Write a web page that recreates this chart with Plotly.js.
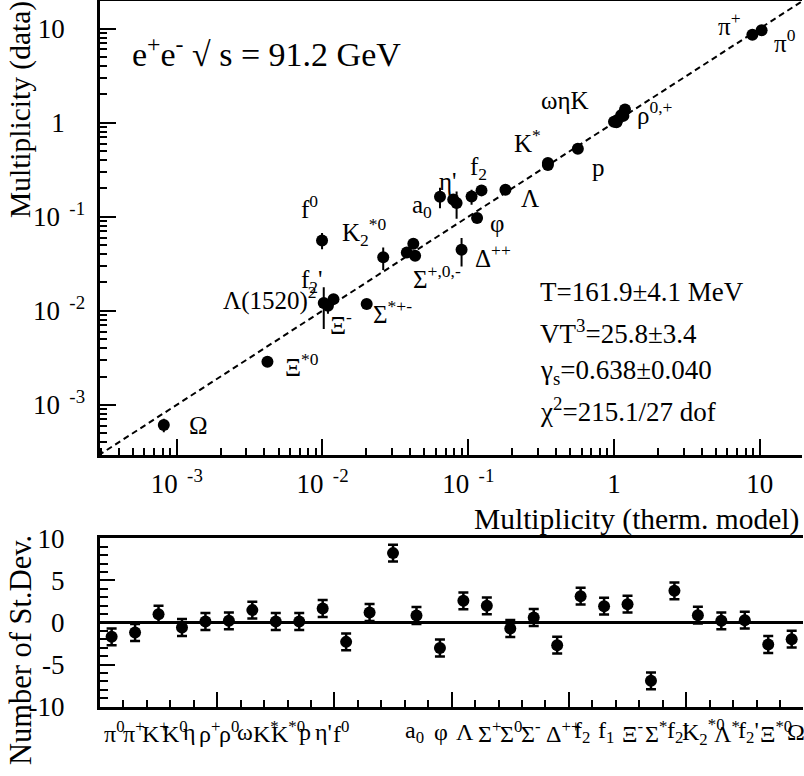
<!DOCTYPE html>
<html><head><meta charset="utf-8">
<script src="https://cdn.plot.ly/plotly-3.0.1.min.js"></script>
<style>html,body{margin:0;padding:0;background:#fff;} #chart{width:804px;height:776px;}</style>
</head><body><div id="chart"></div>
<script>
// ---------- data ----------
const species = ['π0','π+','K+','K0','η','ρ+','ρ0','ω','K*','K*0','p',"η'",'f0','a0','φ','Λ','Σ+','Σ0','Σ-','Δ++','f2','f1','Ξ-','Σ*',"f2'",'K2*0','Λ*',"f2'",'Ξ*0','Ω'];
const modelMult = [10.3, 8.9, 1.12, 1.04, 1.00, 1.16, 1.19, 1.05, 0.352, 0.352, 0.565, 0.0832, 0.00993, 0.064, 0.115, 0.180, 0.0420, 0.0432, 0.0379, 0.090, 0.1233, 0.1054, 0.0119, 0.0201, 0.0102, 0.0261, 0.0109, 0.0789, 0.00419, 0.000815];
const dataMult  = [9.6, 8.6, 1.20, 1.01, 1.02, 1.18, 1.38, 1.06, 0.355, 0.372, 0.529, 0.140, 0.056, 0.163, 0.0968, 0.1936, 0.0516, 0.0385, 0.0417, 0.0445, 0.1905, 0.164, 0.0133, 0.0118, 0.0121, 0.0371, 0.0113, 0.152, 0.00287, 0.000612];
const dataErr   = [0.4, 0.2, 0.04, 0.03, 0.05, 0.1, 0.1, 0.05, 0.02, 0.02, 0.02, 0.045, 0.011, 0.04, 0.005, 0.005, 0.004, 0.003, 0.003, 0.015, 0.02, 0.03, 0.0005, 0.0012, 0.0057, 0.01, 0.002, 0.01, 0.0003, 0.0001];
const nSigma    = [-1.70, -1.19, 0.99, -0.59, 0.12, 0.20, 1.47, 0.12, 0.12, 1.66, -2.30, 1.19, 8.24, 0.83, -3.03, 2.57, 1.98, -0.71, 0.59, -2.69, 3.13, 1.94, 2.18, -6.93, 3.76, 0.87, 0.20, 0.28, -2.61, -1.98];
const nSigmaErr = [1,1,1,1,1,1,1,1,1,1,1,1,1,1,1,1,1,1,1,1,1,1,1,1,1,1,1,1,1,1];
const diagonal  = [2.9e-4, 20];
const logTickVals = [0.001, 0.01, 0.1, 1, 10];
const xLogTickText = ['10<sup>\u00a0\u00a0-3</sup>','10<sup>\u00a0\u00a0-2</sup>','10<sup>\u00a0\u00a0-1</sup>','1','10'];
const yLogTickText = ['10<sup>\u00a0\u00a0-3</sup>','10<sup>\u00a0\u00a0-2</sup>','10<sup>\u00a0\u00a0-1</sup>','1\u00a0\u00a0\u00a0','10\u00a0\u00a0\u00a0'];
const devTickVals = [-10,-5,0,5,10];
const devTickText = ['-10','-5','0','5','10'];
const fitLines = ['T=161.9±4.1 MeV','VT<sup>3</sup>=25.8±3.4','γ<sub>s</sub>=0.638±0.040','χ<sup>2</sup>=215.1/27 dof'];
const topLabels = ['π<sup>+</sup>','π<sup>0</sup>','ωηK','ρ<sup>0,+</sup>','K<sup>*</sup>','p','Λ','φ','Δ<sup>++</sup>','f<sub>2</sub>',"η'",'a<sub>0</sub>','Σ<sup>+,0,-</sup>','K<sub>2</sub><sup>*0</sup>','f<sup>0</sup>',"f<sub>2</sub>'",'Λ(1520)<sup>2</sup>','Ξ<sup>-</sup>','Σ<sup>*+-</sup>','Ξ<sup>*0</sup>','Ω'];
const catLabels = ['π<sup>0</sup>','π<sup>+</sup>','K<sup>+</sup>','K<sup>0</sup>','η','ρ<sup>+</sup>','ρ<sup>0</sup>','ω','K<sup>*</sup>','K<sup>*0</sup>','p',"η'",'f<sup>0</sup>','a<sub>0</sub>','φ','Λ','Σ<sup>+</sup>','Σ<sup>0</sup>','Σ<sup>-</sup>','Δ<sup>++</sup>','f<sub>2</sub>','f<sub>1</sub>','Ξ<sup>-</sup>','Σ<sup>*</sup>',"f<sub>2</sub>'",'K<sub>2</sub><sup>*0</sup>','Λ<sup>*</sup>',"f<sub>2</sub>'",'Ξ<sup>*0</sup>','Ω'];

// ---------- layout helpers ----------
const W = 804, H = 776;
const FONT = '"Liberation Serif", "Times New Roman", Times, serif';
const px = x => x / W, py = y => 1 - y / H;
function ann(text, x, y, size, xa, ya, extra) {
  return Object.assign({text: text, x: px(x), y: py(y), xref: 'paper', yref: 'paper', showarrow: false,
    xanchor: xa || 'center', yanchor: ya || 'middle', font: {family: FONT, size: size, color: '#000'}}, extra || {});
}
const minorLog = [];
for (let e = -4; e <= 1; e++) for (let k = 2; k <= 9; k++) minorLog.push(k * Math.pow(10, e));
const catX = species.map((_, i) => i + 0.5);

const topLabelPos = [[729,24],[785,41],[565,101],[655,113],[527,141],[598,167],[530,198],[497,224],[493,256],[478,168],[448,181],[422,207],[437,277],[364,232],[309,207],[312,281],[270,298],[341,323],[392,312],[302,365],[198,425]];
const catLabelPx = [115,134,155,174.5,189,210,229,245,266,288,305,323,341,414,441,465,490,511,531,563,582,606,632,656,677,703,727,748,776,796];

const annotations = [];
topLabels.forEach((t, i) => annotations.push(ann(t, topLabelPos[i][0], topLabelPos[i][1], 25)));
annotations.push(ann('e<sup>+</sup>e<sup>-</sup> √ s = 91.2 GeV', 130, 52, 34, 'left'));
fitLines.forEach((t, i) => annotations.push(ann(t, 538, [292, 332, 372, 410][i], 27, 'left')));
annotations.push(ann('Multiplicity (data)', 21, 110, 29.5, 'center', 'middle', {textangle: -90}));
annotations.push(ann('Multiplicity (therm. model)', 801, 519, 29.5, 'right'));
annotations.push(ann('Number of St.Dev.', 21, 650, 30.5, 'center', 'middle', {textangle: -90}));
catLabels.forEach((t, i) => annotations.push(ann(t, catLabelPx[i], 732, 24)));

const traces = [
  {x: diagonal, y: diagonal, xaxis: 'x', yaxis: 'y', mode: 'lines', line: {color: '#000', width: 2, dash: '6px,4px'}, hoverinfo: 'skip'},
  {x: modelMult, y: dataMult, xaxis: 'x', yaxis: 'y', mode: 'markers', text: species,
   marker: {color: '#000', size: 12},
   error_y: {type: 'data', array: dataErr, visible: true, color: '#000', thickness: 2, width: 0}},
  {x: catX, y: nSigma, xaxis: 'x2', yaxis: 'y2', mode: 'markers', text: species,
   marker: {color: '#000', size: 12},
   error_y: {type: 'data', array: nSigmaErr, visible: true, color: '#000', thickness: 2.5, width: 5}}
];

const axBase = {showline: true, linecolor: '#000', linewidth: 3, showgrid: false, zeroline: false,
  ticks: 'inside', tickcolor: '#000', tickwidth: 2, tickfont: {family: FONT, size: 27, color: '#000'}};

const layout = {
  width: W, height: H, margin: {l: 0, r: 0, t: 0, b: 0}, paper_bgcolor: '#fff', plot_bgcolor: '#fff',
  showlegend: false, font: {family: FONT, color: '#000'},
  xaxis: Object.assign({}, axBase, {type: 'log', domain: [99.5 / W, 802 / W], range: [-3.53, 1.29], anchor: 'y',
    mirror: true, tickmode: 'array', tickvals: logTickVals, ticktext: xLogTickText, ticklen: 16, ticklabelstandoff: 3,
    minor: {tickmode: 'array', tickvals: minorLog, ticks: 'inside', ticklen: 7, tickcolor: '#000', tickwidth: 2}}),
  yaxis: Object.assign({}, axBase, {type: 'log', domain: [1 - 454.7 / H, 1 - 1.3 / H], range: [-3.53, 1.29], anchor: 'x',
    tickmode: 'array', tickvals: logTickVals, ticktext: yLogTickText, ticklen: 16, ticklabelstandoff: 6,
    minor: {tickmode: 'array', tickvals: minorLog, ticks: 'inside', ticklen: 7, tickcolor: '#000', tickwidth: 2}}),
  xaxis2: Object.assign({}, axBase, {domain: [99.9 / W, 803.4 / W], range: [0, 30], anchor: 'y2', mirror: true,
    dtick: 5, tick0: 0, ticklen: 15, showticklabels: false,
    minor: {dtick: 1, tick0: 0, ticks: 'inside', ticklen: 7, tickcolor: '#000', tickwidth: 2}}),
  yaxis2: Object.assign({}, axBase, {domain: [1 - 706.7 / H, 1 - 538.3 / H], range: [-10, 10], anchor: 'x2',
    zeroline: true, zerolinecolor: '#000', zerolinewidth: 2.5,
    tickmode: 'array', tickvals: devTickVals, ticktext: devTickText, ticklen: 15, ticklabelstandoff: 27,
    minor: {dtick: 1, tick0: 0, ticks: 'inside', ticklen: 8, tickcolor: '#000', tickwidth: 2}}),
  annotations: annotations
};

Plotly.newPlot('chart', traces, layout, {staticPlot: true, displayModeBar: false});
</script>
</body></html>
